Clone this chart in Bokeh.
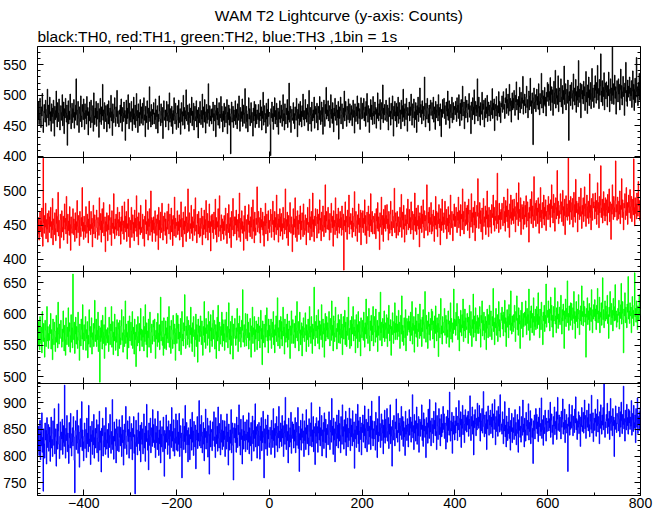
from bokeh.plotting import figure
from bokeh.models import (SingleIntervalTicker, FixedTicker, LinearAxis, Title,
                          Range1d, CustomJSTickFormatter, Grid)
from bokeh.embed import file_html
from bokeh.resources import INLINE

TITLE = "WAM T2 Lightcurve (y-axis: Counts)"
SUBTITLE = "black:TH0, red:TH1, green:TH2, blue:TH3 ,1bin = 1s"
X_START = -500
BIN_WIDTH = 1
X_MIN, X_MAX = -500, 800

th0 = [
    476, 461, 489, 452, 470, 495, 458, 447, 481, 466, 503, 474, 439, 462, 485, 471, 456, 492, 468, 449, 477, 510, 463, 484, 451,
    469, 497, 458, 473, 441, 486, 465, 479, 454, 492, 470, 433, 482, 460, 475, 507, 463, 448, 488, 471, 457, 494, 476, 443, 468,
    483, 459, 472, 501, 450, 466, 489, 437, 478, 463, 495, 471, 456, 484, 418, 467, 491, 453, 474, 460, 502, 480, 445, 469, 487,
    455, 478, 464, 493, 446, 472, 459, 484, 527, 468, 451, 476, 490, 462, 439, 481, 470, 457, 499, 466, 448, 485, 473, 460, 494,
    471, 444, 486, 462, 475, 453, 498, 467, 480, 435, 473, 458, 489, 464, 447, 492, 476, 455, 468, 483, 441, 504, 466, 452, 479,
    463, 490, 449, 474, 461, 487, 472, 431, 478, 456, 495, 469, 452, 481, 466, 518, 459, 476, 445, 488, 470, 457, 483, 462, 440,
    485, 467, 453, 491, 472, 446, 479, 464, 500, 458, 473, 434, 486, 469, 455, 477, 496, 462, 449, 481, 465, 508, 454, 474, 460,
    448, 476, 469, 484, 455, 494, 466, 441, 480, 471, 457, 489, 463, 475, 426, 468, 492, 453, 479, 462, 501, 470, 445, 487, 459,
    473, 456, 490, 465, 442, 478, 461, 497, 452, 470, 484, 447, 466, 503, 458, 475, 439, 486, 463, 472, 450, 493, 468, 454, 481,
    462, 487, 451, 474, 496, 459, 468, 432, 482, 466, 455, 491, 470, 444, 479, 463, 514, 457, 473, 448, 485, 466, 452, 477, 469,
    488, 453, 471, 460, 494, 445, 476, 465, 483, 438, 469, 457, 499, 474, 461, 450, 486, 467, 455, 480, 429, 472, 491, 459, 464,
    476, 448, 465, 490, 458, 471, 485, 443, 467, 504, 456, 478, 462, 449, 482, 470, 437, 475, 459, 496, 466, 453, 487, 471, 444,
    459, 483, 470, 447, 492, 464, 455, 478, 436, 469, 488, 457, 473, 451, 500, 466, 480, 445, 461, 475, 509, 458, 468, 484, 452,
    472, 441, 486, 463, 455, 479, 467, 497, 450, 474, 460, 487, 443, 470, 482, 458, 465, 491, 448, 476, 462, 430, 480, 469, 455,
    490, 466, 452, 475, 461, 502, 447, 481, 468, 456, 493, 473, 438, 464, 485, 454, 477, 460, 519, 471, 449, 483, 466, 458, 477,
    453, 478, 464, 489, 442, 470, 458, 484, 475, 432, 467, 495, 460, 479, 451, 473, 488, 446, 469, 463, 498, 457, 482, 470, 440,
    474, 459, 487, 448, 469, 481, 455, 466, 493, 437, 472, 460, 484, 451, 478, 465, 404, 470, 489, 456, 463, 482, 447, 476, 458,
    468, 491, 452, 477, 463, 445, 486, 470, 459, 499, 466, 441, 480, 457, 473, 462, 494, 449, 468, 484, 454, 471, 511, 460, 446,
    482, 457, 469, 440, 475, 496, 461, 478, 450, 467, 488, 455, 472, 464, 433, 479, 458, 490, 466, 447, 485, 469, 453, 476, 463,
    460, 485, 447, 471, 458, 492, 466, 481, 443, 474, 462, 505, 451, 468, 483, 456, 470, 438, 487, 461, 477, 449, 494, 465, 472,
    471, 452, 401, 478, 463, 489, 457, 470, 444, 482, 465, 496, 453, 475, 460, 487, 448, 469, 479, 436, 473, 461, 491, 455, 467,
    484, 462, 449, 476, 501, 458, 470, 443, 486, 465, 453, 479, 468, 493, 447, 474, 460, 520, 456, 471, 482, 439, 466, 477, 459,
    463, 488, 454, 470, 445, 481, 467, 459, 495, 472, 432, 477, 462, 486, 451, 469, 490, 457, 474, 448, 483, 465, 502, 460, 475,
    450, 474, 493, 461, 479, 456, 468, 485, 442, 472, 508, 464, 453, 480, 467, 441, 489, 470, 458, 476, 463, 497, 446, 482, 469,
    478, 455, 487, 466, 443, 482, 471, 460, 498, 475, 452, 468, 489, 457, 480, 436, 473, 492, 464, 449, 485, 470, 513, 461, 476,
    466, 491, 458, 474, 483, 447, 469, 501, 462, 477, 454, 488, 471, 440, 479, 466, 495, 459, 472, 484, 451, 476, 463, 490, 428,
    481, 462, 475, 497, 453, 468, 486, 471, 445, 479, 464, 507, 458, 473, 490, 467, 449, 482, 476, 460, 494, 470, 455, 486, 472,
    459, 483, 468, 450, 477, 492, 464, 475, 438, 486, 471, 457, 481, 466, 499, 453, 474, 487, 462, 478, 444, 469, 496, 473, 461,
    487, 463, 476, 495, 458, 472, 481, 449, 490, 467, 503, 474, 456, 483, 470, 439, 478, 465, 493, 460, 484, 471, 452, 498, 466,
    474, 453, 489, 469, 480, 446, 477, 462, 504, 471, 458, 486, 467, 493, 444, 475, 488, 461, 470, 517, 455, 479, 468, 485, 459,
    463, 492, 471, 457, 484, 468, 443, 479, 496, 465, 474, 451, 487, 470, 461, 499, 476, 433, 482, 466, 490, 458, 473, 487, 448,
    481, 466, 497, 454, 472, 488, 461, 476, 445, 492, 469, 483, 457, 510, 464, 478, 450, 486, 471, 460, 495, 474, 441, 480, 467,
    470, 489, 458, 481, 467, 502, 475, 451, 486, 463, 479, 494, 447, 473, 460, 488, 476, 439, 483, 468, 497, 457, 480, 471, 512,
    464, 485, 476, 453, 491, 470, 482, 459, 477, 530, 466, 448, 487, 474, 461, 495, 479, 455, 469, 484, 442, 478, 492, 467, 473,
    488, 461, 474, 497, 456, 481, 469, 444, 490, 476, 463, 485, 472, 458, 501, 467, 480, 450, 486, 473, 432, 477, 464, 493, 470,
    477, 495, 462, 483, 470, 452, 489, 474, 466, 507, 459, 478, 491, 446, 472, 485, 463, 480, 497, 455, 471, 488, 460, 476, 482,
    468, 490, 479, 457, 496, 472, 484, 462, 501, 475, 450, 487, 470, 493, 459, 481, 515, 466, 478, 489, 445, 474, 498, 463, 480,
    492, 471, 456, 486, 477, 503, 464, 483, 470, 437, 489, 475, 460, 496, 481, 468, 509, 453, 477, 490, 466, 484, 472, 527, 458,
    479, 497, 465, 482, 451, 488, 474, 469, 505, 460, 486, 477, 492, 448, 473, 495, 463, 481, 470, 500, 457, 476, 489, 466, 484,
    473, 458, 491, 480, 468, 511, 462, 487, 476, 494, 442, 478, 485, 466, 498, 474, 459, 483, 471, 506, 465, 490, 479, 455, 487,
    481, 499, 472, 490, 506, 477, 485, 462, 496, 488, 511, 470, 493, 479, 502, 467, 487, 518, 474, 495, 483, 456, 491, 504, 476,
    495, 479, 508, 486, 467, 500, 489, 522, 476, 493, 484, 460, 498, 481, 513, 471, 490, 505, 478, 496, 487, 531, 469, 492, 483,
    502, 486, 471, 497, 515, 480, 493, 463, 488, 507, 476, 499, 528, 482, 491, 470, 504, 487, 419, 496, 512, 478, 489, 501, 473,
    491, 510, 484, 498, 477, 519, 490, 468, 503, 486, 496, 536, 479, 494, 508, 471, 499, 485, 513, 482, 497, 466, 505, 490, 521,
    497, 518, 483, 506, 492, 529, 475, 501, 514, 488, 509, 467, 498, 523, 486, 504, 541, 479, 495, 511, 485, 500, 532, 473, 507,
    512, 489, 504, 527, 481, 497, 516, 470, 508, 493, 548, 485, 502, 519, 476, 495, 510, 487, 525, 499, 426, 506, 491, 517, 483,
    495, 521, 508, 477, 503, 535, 490, 512, 484, 499, 526, 472, 506, 492, 515, 481, 557, 497, 510, 488, 520, 463, 502, 518, 494,
    508, 486, 523, 499, 514, 475, 501, 539, 489, 505, 470, 517, 496, 530, 483, 509, 493, 521, 478, 503, 544, 490, 512, 497, 480,
    517, 496, 532, 508, 487, 521, 503, 549, 492, 511, 478, 526, 500, 515, 568, 489, 507, 524, 483, 513, 498, 537, 476, 509, 520,
    494, 522, 505, 481, 516, 499, 538, 510, 473, 503, 527, 491, 512, 486, 579, 500, 519, 485, 508, 533, 495, 514, 469, 506, 524,
    511, 489, 527, 502, 518, 476, 509, 543, 495, 516, 484, 506, 531, 498, 513, 467, 520, 504, 554, 490, 508, 482, 525, 497, 515,
    503, 530, 491, 512, 499, 524, 480, 507, 540, 493, 518, 475, 510, 528, 488, 506, 562, 497, 514, 483, 521, 500, 536, 492, 511,
]

th1 = [
    452, 437, 461, 428, 449, 470, 441, 456, 433, 475, 446, 419, 548, 453, 438, 464, 447, 482, 430, 458, 444, 467, 425, 451, 471,
    439, 462, 448, 476, 431, 455, 443, 489, 421, 459, 450, 436, 468, 445, 427, 473, 452, 440, 463, 498, 434, 457, 446, 416, 466,
    458, 432, 471, 447, 440, 463, 428, 454, 481, 444, 460, 437, 492, 449, 423, 466, 442, 456, 435, 477, 451, 413, 462, 445, 438,
    447, 474, 436, 459, 452, 426, 468, 443, 455, 431, 486, 448, 439, 464, 457, 420, 470, 446, 433, 461, 449, 505, 441, 454, 429,
    463, 441, 450, 432, 477, 455, 438, 466, 447, 424, 459, 485, 442, 451, 436, 470, 445, 460, 418, 453, 479, 437, 448, 465, 431,
    440, 458, 472, 446, 429, 461, 453, 435, 490, 449, 443, 467, 425, 456, 474, 439, 452, 483, 434, 447, 462, 411, 455, 441, 468,
    451, 427, 464, 443, 457, 480, 436, 449, 461, 420, 471, 445, 453, 438, 496, 448, 430, 459, 444, 466, 435, 453, 476, 442, 458,
    434, 469, 447, 455, 422, 462, 441, 478, 450, 437, 456, 429, 484, 446, 463, 440, 470, 426, 452, 445, 488, 433, 461, 449, 417,
    457, 443, 476, 432, 451, 465, 438, 454, 427, 472, 446, 460, 441, 493, 433, 450, 462, 421, 468, 444, 455, 436, 479, 447, 439,
    446, 466, 430, 458, 444, 419, 463, 451, 487, 437, 455, 442, 470, 428, 459, 448, 474, 435, 453, 500, 440, 461, 426, 457, 443,
    462, 438, 453, 471, 426, 448, 459, 435, 465, 452, 414, 476, 443, 457, 431, 469, 446, 439, 482, 450, 428, 463, 441, 455, 468,
    435, 459, 447, 423, 470, 444, 456, 481, 437, 452, 466, 429, 449, 475, 440, 458, 420, 464, 451, 434, 491, 445, 460, 432, 454,
    449, 471, 436, 455, 442, 465, 428, 458, 447, 484, 433, 460, 451, 418, 469, 443, 456, 437, 477, 448, 426, 462, 453, 439, 503,
    441, 457, 468, 430, 452, 445, 479, 438, 462, 427, 455, 446, 473, 435, 459, 490, 441, 450, 424, 466, 453, 437, 470, 448, 432,
    460, 434, 452, 475, 445, 421, 463, 450, 436, 472, 444, 458, 431, 486, 449, 440, 467, 428, 456, 446, 481, 439, 455, 412, 464,
    448, 466, 439, 457, 430, 469, 452, 444, 488, 436, 461, 425, 455, 447, 474, 433, 458, 493, 441, 450, 427, 465, 446, 459, 437,
    455, 429, 464, 442, 458, 475, 435, 451, 423, 467, 445, 439, 480, 452, 431, 461, 448, 417, 470, 443, 456, 489, 434, 449, 462,
    437, 462, 450, 472, 428, 446, 458, 441, 466, 432, 497, 453, 426, 460, 444, 471, 438, 455, 449, 413, 464, 441, 478, 452, 430,
    458, 443, 427, 465, 451, 480, 439, 456, 433, 462, 447, 476, 430, 452, 487, 441, 458, 424, 469, 446, 435, 460, 451, 506, 440,
    446, 470, 454, 438, 461, 424, 475, 447, 458, 443, 469, 435, 455, 419, 463, 449, 482, 437, 453, 466, 442, 427, 471, 445, 457,
    439, 456, 473, 448, 432, 466, 451, 485, 440, 457, 428, 470, 447, 461, 436, 494, 452, 443, 466, 425, 459, 447, 474, 434, 462,
    467, 441, 452, 429, 476, 446, 460, 437, 455, 503, 443, 458, 431, 469, 448, 420, 464, 451, 440, 483, 455, 438, 462, 447, 411,
    451, 474, 436, 459, 447, 490, 432, 463, 449, 426, 471, 444, 457, 436, 465, 452, 478, 429, 456, 443, 468, 454, 433, 481, 445,
    436, 457, 465, 442, 421, 460, 451, 476, 439, 454, 447, 488, 428, 462, 445, 470, 433, 451, 497, 440, 458, 426, 463, 449, 474,
    462, 445, 431, 473, 452, 466, 438, 457, 487, 443, 460, 427, 469, 450, 441, 478, 455, 433, 464, 447, 509, 439, 456, 470, 444,
    450, 476, 443, 458, 428, 467, 452, 439, 482, 455, 446, 463, 419, 471, 448, 457, 436, 490, 453, 442, 466, 431, 460, 475, 447,
    438, 459, 470, 446, 461, 435, 478, 451, 443, 466, 384, 457, 449, 484, 440, 463, 454, 429, 472, 447, 458, 494, 437, 462, 451,
    467, 444, 456, 432, 475, 453, 440, 463, 499, 448, 434, 470, 457, 445, 426, 465, 451, 481, 439, 460, 447, 472, 421, 455, 468,
    446, 471, 439, 460, 452, 487, 435, 464, 448, 423, 469, 455, 442, 478, 451, 433, 466, 449, 496, 440, 458, 470, 437, 454, 463,
    459, 437, 467, 450, 430, 474, 456, 445, 483, 441, 462, 452, 414, 468, 447, 458, 491, 436, 464, 450, 426, 473, 445, 460, 479,
    441, 464, 452, 480, 445, 459, 428, 470, 451, 438, 466, 485, 443, 455, 434, 472, 457, 446, 463, 504, 439, 456, 468, 431, 453,
    470, 448, 435, 462, 455, 440, 476, 447, 461, 495, 432, 457, 469, 444, 479, 452, 425, 465, 449, 458, 436, 474, 452, 488, 443,
    452, 473, 446, 461, 437, 484, 455, 443, 470, 458, 429, 466, 450, 497, 441, 462, 475, 436, 457, 449, 479, 444, 463, 418, 468,
    445, 460, 478, 439, 466, 452, 487, 447, 431, 471, 456, 464, 442, 458, 509, 448, 435, 469, 453, 476, 440, 461, 451, 483, 437,
    466, 441, 455, 472, 448, 426, 463, 450, 492, 444, 470, 457, 433, 468, 452, 480, 446, 459, 421, 474, 455, 442, 488, 450, 462,
    439, 468, 451, 485, 456, 444, 473, 430, 460, 449, 477, 440, 465, 453, 436, 494, 458, 446, 470, 452, 427, 466, 457, 481, 448,
    463, 448, 476, 455, 439, 469, 457, 491, 446, 471, 452, 434, 480, 459, 466, 443, 503, 455, 470, 437, 462, 484, 449, 458, 475,
    451, 479, 442, 466, 488, 454, 431, 472, 460, 447, 496, 455, 468, 439, 476, 461, 450, 485, 427, 469, 457, 446, 479, 463, 518,
    468, 445, 460, 483, 452, 471, 440, 458, 475, 429, 466, 489, 448, 462, 454, 478, 436, 471, 459, 500, 447, 465, 433, 476, 456,
    447, 472, 455, 438, 480, 461, 467, 494, 450, 476, 441, 463, 457, 486, 445, 470, 526, 452, 464, 439, 482, 458, 469, 444, 473,
    458, 482, 467, 449, 475, 491, 453, 470, 441, 486, 462, 478, 455, 503, 446, 472, 464, 432, 481, 460, 494, 451, 469, 487, 457,
    474, 452, 488, 463, 477, 440, 470, 497, 458, 467, 483, 449, 512, 461, 473, 455, 490, 436, 468, 480, 459, 476, 444, 485, 465,
    451, 479, 462, 493, 447, 470, 484, 456, 468, 425, 476, 460, 488, 471, 452, 499, 463, 478, 446, 465, 521, 457, 473, 482, 448,
    486, 464, 475, 452, 490, 469, 438, 481, 461, 505, 455, 472, 446, 483, 467, 459, 494, 450, 476, 463, 487, 442, 470, 458, 479,
    470, 492, 458, 481, 465, 447, 487, 474, 509, 461, 478, 453, 495, 468, 482, 441, 473, 490, 459, 476, 530, 464, 485, 452, 471,
    460, 479, 496, 466, 484, 455, 472, 501, 449, 477, 464, 488, 436, 470, 493, 462, 481, 457, 475, 548, 463, 486, 451, 469, 492,
    483, 458, 471, 489, 447, 476, 498, 462, 480, 454, 517, 468, 485, 473, 440, 482, 466, 491, 458, 477, 463, 504, 470, 445, 479,
    466, 490, 455, 474, 506, 463, 481, 448, 472, 494, 460, 477, 485, 452, 468, 525, 461, 479, 443, 489, 470, 457, 496, 475, 484,
    478, 459, 497, 470, 486, 451, 474, 512, 465, 483, 446, 492, 468, 479, 537, 461, 475, 488, 453, 471, 499, 464, 482, 456, 490,
    463, 487, 472, 450, 495, 477, 468, 503, 455, 484, 470, 429, 481, 466, 509, 473, 458, 492, 476, 462, 486, 544, 469, 480, 457,
    491, 470, 459, 485, 466, 500, 452, 479, 473, 518, 461, 487, 469, 443, 482, 475, 496, 458, 471, 505, 464, 483, 451, 476, 494,
    468, 484, 502, 460, 477, 492, 455, 471, 488, 465, 547, 476, 449, 490, 467, 481, 459, 497, 473, 463, 514, 478, 486, 457, 472,
]

th2 = [
    572, 549, 588, 561, 543, 596, 567, 553, 579, 538, 604, 570, 556, 585, 562, 531, 590, 574, 548, 566, 612, 557, 580, 545, 569,
    558, 583, 569, 601, 544, 575, 560, 527, 592, 566, 551, 587, 573, 540, 563, 598, 555, 578, 546, 619, 568, 552, 584, 561, 575,
    590, 563, 547, 576, 556, 605, 570, 541, 582, 559, 534, 594, 567, 551, 579, 564, 610, 548, 572, 586, 539, 566, 599, 555, 578,
    546, 664, 574, 559, 587, 537, 568, 595, 552, 580, 563, 545, 603, 571, 558, 526, 584, 566, 549, 592, 575, 560, 615, 543, 570,
    583, 557, 569, 596, 542, 575, 561, 588, 530, 566, 552, 607, 573, 547, 580, 563, 594, 536, 570, 559, 585, 548, 577, 622, 556,
    567, 592, 548, 574, 559, 603, 540, 581, 565, 491, 578, 556, 590, 562, 544, 598, 571, 553, 583, 529, 565, 611, 550, 575, 561,
    554, 578, 566, 540, 595, 569, 551, 584, 573, 612, 547, 563, 588, 535, 571, 557, 600, 564, 542, 579, 555, 591, 568, 533, 586,
    576, 545, 590, 562, 551, 581, 607, 558, 570, 539, 596, 566, 548, 575, 621, 553, 584, 563, 528, 571, 589, 546, 562, 597, 557,
    561, 587, 550, 573, 604, 545, 568, 579, 536, 592, 559, 571, 516, 583, 564, 549, 596, 572, 554, 585, 541, 567, 609, 558, 576,
    548, 574, 563, 596, 541, 580, 556, 615, 568, 551, 586, 531, 573, 562, 592, 547, 578, 603, 559, 538, 571, 584, 552, 565, 590,
    579, 556, 592, 566, 529, 574, 560, 587, 548, 601, 570, 555, 583, 543, 566, 627, 557, 572, 589, 550, 563, 534, 594, 568, 545,
    566, 589, 543, 578, 561, 595, 554, 570, 612, 547, 581, 563, 537, 590, 575, 559, 545, 598, 567, 552, 584, 570, 526, 577, 601,
    553, 577, 598, 560, 584, 541, 571, 562, 593, 535, 576, 604, 557, 568, 549, 586, 573, 631, 560, 545, 581, 566, 596, 551, 574,
    590, 560, 547, 582, 567, 611, 553, 578, 540, 586, 564, 596, 571, 532, 575, 559, 600, 548, 583, 567, 523, 592, 570, 556, 581,
    564, 597, 572, 551, 589, 563, 534, 580, 566, 620, 555, 578, 545, 593, 569, 583, 550, 574, 604, 561, 588, 539, 573, 599, 557,
    578, 548, 585, 606, 560, 576, 590, 544, 567, 583, 529, 572, 595, 557, 614, 563, 541, 587, 574, 552, 580, 566, 603, 548, 591,
    557, 584, 569, 542, 591, 574, 555, 603, 563, 580, 546, 570, 618, 559, 576, 536, 588, 565, 550, 597, 572, 528, 584, 561, 575,
    593, 565, 550, 578, 561, 609, 572, 540, 585, 556, 597, 568, 579, 547, 562, 590, 574, 639, 555, 570, 583, 548, 566, 601, 559,
    549, 576, 600, 562, 587, 544, 570, 558, 593, 573, 531, 581, 564, 611, 553, 578, 567, 596, 540, 575, 560, 589, 571, 543, 584,
    570, 595, 557, 581, 546, 573, 606, 560, 577, 519, 589, 566, 554, 584, 572, 547, 598, 563, 581, 610, 557, 574, 538, 592, 565,
    582, 558, 576, 592, 545, 569, 587, 563, 604, 551, 575, 538, 583, 566, 597, 556, 571, 626, 549, 578, 563, 590, 545, 572, 596,
    560, 588, 549, 573, 611, 565, 579, 536, 592, 570, 555, 584, 562, 600, 547, 576, 559, 589, 574, 529, 581, 566, 605, 553, 578,
    591, 567, 553, 585, 571, 546, 597, 562, 578, 620, 557, 573, 588, 541, 569, 603, 575, 551, 566, 586, 533, 580, 562, 594, 572,
    556, 578, 602, 566, 540, 583, 559, 574, 592, 548, 569, 612, 563, 580, 553, 596, 571, 537, 584, 560, 577, 643, 565, 549, 588,
    573, 598, 562, 581, 553, 607, 576, 544, 589, 566, 583, 559, 615, 572, 547, 592, 568, 585, 531, 578, 601, 557, 574, 596, 563,
    586, 560, 578, 604, 569, 549, 593, 575, 558, 621, 566, 582, 541, 597, 570, 556, 589, 611, 563, 577, 544, 585, 572, 599, 554,
    567, 591, 553, 576, 600, 562, 584, 535, 574, 596, 560, 579, 606, 551, 587, 573, 548, 595, 566, 582, 627, 559, 577, 545, 590,
    575, 549, 596, 568, 584, 612, 557, 579, 565, 591, 538, 573, 599, 561, 583, 546, 604, 571, 556, 588, 567, 533, 594, 578, 562,
    590, 572, 558, 603, 579, 547, 586, 568, 624, 561, 583, 596, 553, 576, 609, 565, 541, 589, 574, 598, 557, 581, 567, 612, 549,
    571, 596, 582, 555, 608, 574, 563, 590, 540, 581, 566, 603, 577, 558, 635, 570, 587, 549, 578, 593, 562, 584, 605, 556, 575,
    586, 561, 599, 577, 548, 594, 569, 614, 583, 557, 576, 591, 534, 580, 567, 602, 574, 553, 588, 570, 618, 559, 585, 571, 597,
    559, 584, 572, 606, 564, 587, 545, 576, 598, 568, 629, 556, 582, 573, 550, 594, 578, 562, 607, 541, 580, 593, 566, 588, 575,
    597, 571, 588, 557, 603, 579, 566, 620, 552, 585, 574, 596, 539, 582, 569, 610, 563, 589, 576, 548, 600, 572, 585, 561, 616,
    565, 591, 578, 548, 595, 572, 607, 583, 561, 587, 636, 570, 555, 598, 576, 589, 545, 580, 603, 567, 584, 558, 593, 574, 608,
    583, 604, 560, 589, 576, 546, 597, 569, 613, 582, 557, 594, 571, 585, 532, 600, 578, 562, 591, 625, 568, 581, 552, 596, 573,
    570, 587, 609, 566, 580, 598, 553, 591, 575, 563, 605, 584, 547, 589, 572, 618, 560, 593, 577, 555, 586, 569, 640, 575, 592,
    590, 566, 603, 581, 617, 574, 559, 596, 585, 541, 592, 571, 606, 583, 565, 599, 578, 624, 556, 589, 573, 608, 562, 594, 580,
    575, 601, 587, 553, 595, 570, 614, 582, 566, 604, 579, 548, 591, 577, 632, 563, 597, 584, 570, 610, 557, 588, 576, 598, 569,
    594, 569, 580, 612, 576, 547, 598, 586, 621, 565, 590, 574, 603, 559, 584, 596, 570, 543, 589, 608, 577, 562, 599, 583, 614,
    564, 590, 605, 577, 559, 596, 581, 641, 572, 587, 551, 594, 578, 609, 566, 585, 599, 556, 580, 620, 573, 591, 563, 586, 602,
    590, 611, 576, 598, 565, 603, 585, 622, 571, 594, 548, 588, 607, 579, 596, 562, 615, 583, 600, 574, 637, 586, 568, 597, 581,
    572, 599, 587, 614, 578, 556, 604, 590, 629, 575, 593, 566, 610, 584, 598, 545, 589, 606, 577, 619, 592, 563, 601, 580, 594,
    603, 582, 621, 596, 567, 609, 585, 599, 574, 640, 590, 558, 605, 578, 613, 593, 570, 601, 587, 626, 566, 596, 580, 608, 575,
    588, 612, 577, 600, 634, 583, 596, 562, 608, 591, 575, 619, 597, 584, 551, 603, 589, 614, 572, 598, 585, 648, 579, 594, 606,
    595, 621, 586, 608, 573, 601, 627, 590, 614, 579, 598, 563, 612, 589, 603, 642, 584, 597, 570, 610, 592, 620, 577, 600, 587,
    611, 583, 602, 630, 594, 568, 607, 589, 616, 598, 545, 605, 592, 624, 580, 609, 596, 653, 586, 601, 574, 613, 595, 582, 618,
    590, 617, 599, 575, 610, 593, 636, 585, 604, 561, 597, 620, 588, 608, 578, 600, 631, 592, 567, 606, 589, 613, 583, 645, 596,
    604, 581, 621, 596, 612, 587, 600, 531, 609, 595, 626, 583, 605, 591, 617, 574, 598, 610, 588, 639, 597, 570, 607, 592, 615,
    596, 623, 589, 608, 575, 614, 600, 641, 586, 605, 592, 627, 570, 603, 595, 618, 582, 610, 658, 591, 607, 578, 600, 621, 589,
    613, 592, 604, 630, 585, 599, 561, 611, 596, 636, 602, 583, 617, 594, 606, 573, 625, 598, 589, 612, 647, 590, 605, 579, 600,
    587, 609, 598, 622, 576, 603, 593, 615, 649, 584, 601, 620, 591, 538, 608, 597, 634, 586, 611, 595, 578, 616, 603, 660, 592,
    605, 585, 618, 597, 611, 570, 602, 628, 593, 606, 581, 614, 666, 596, 609, 587, 621, 599, 575, 613, 604, 590, 631, 598, 608,
]

th3 = [
    839, 812, 856, 801, 828, 867, 793, 844, 819, 881, 807, 835, 734, 851, 823, 796, 862, 830, 848, 785, 872, 816, 841, 859, 809,
    826, 854, 790, 838, 873, 815, 831, 799, 866, 842, 820, 889, 804, 836, 851, 781, 828, 860, 813, 847, 898, 822, 795, 837, 864,
    811, 845, 832, 869, 803, 825, 857, 818, 933, 840, 796, 852, 829, 876, 808, 843, 821, 786, 863, 834, 815, 880, 842, 800, 826,
    853, 819, 874, 836, 792, 731, 848, 866, 812, 839, 886, 824, 805, 857, 831, 779, 845, 870, 817, 833, 902, 810, 849, 827, 791,
    837, 862, 814, 829, 850, 797, 871, 823, 843, 808, 895, 832, 818, 856, 784, 840, 827, 865, 803, 848, 821, 878, 796, 835, 852,
    815, 843, 868, 806, 834, 859, 790, 826, 884, 811, 847, 825, 770, 852, 838, 871, 800, 829, 857, 817, 844, 803, 891, 830, 813,
    850, 824, 797, 861, 839, 816, 878, 833, 805, 846, 822, 906, 812, 837, 794, 864, 828, 851, 819, 787, 869, 842, 810, 855, 831,
    808, 868, 835, 819, 854, 841, 799, 876, 825, 849, 783, 830, 860, 814, 845, 893, 821, 803, 838, 866, 827, 850, 796, 874, 836,
    845, 813, 861, 829, 793, 852, 836, 874, 805, 840, 729, 826, 867, 818, 849, 802, 835, 881, 823, 846, 810, 858, 789, 831, 863,
    822, 851, 804, 838, 879, 815, 843, 790, 856, 827, 897, 833, 811, 848, 774, 862, 820, 839, 871, 806, 836, 853, 818, 887, 825,
    859, 830, 816, 870, 797, 844, 825, 856, 812, 884, 834, 801, 849, 823, 866, 787, 841, 817, 855, 829, 808, 873, 838, 762, 848,
    814, 842, 877, 826, 855, 803, 832, 866, 820, 848, 795, 860, 837, 816, 891, 828, 846, 809, 868, 833, 800, 852, 824, 879, 811,
    836, 867, 809, 845, 822, 880, 799, 834, 857, 815, 843, 759, 828, 870, 841, 812, 856, 827, 895, 806, 838, 863, 821, 848, 789,
    853, 821, 840, 793, 869, 832, 854, 811, 882, 826, 847, 801, 865, 839, 817, 858, 776, 830, 849, 874, 814, 843, 828, 904, 819,
    828, 859, 815, 876, 837, 806, 845, 863, 822, 791, 852, 835, 888, 813, 846, 825, 871, 798, 838, 857, 766, 841, 866, 817, 850,
    845, 810, 864, 829, 851, 883, 818, 836, 797, 872, 840, 823, 856, 809, 892, 833, 815, 861, 843, 802, 878, 826, 849, 812, 867,
    818, 847, 831, 866, 799, 838, 855, 813, 879, 827, 845, 783, 860, 836, 811, 849, 824, 887, 806, 842, 862, 820, 755, 853, 834,
    861, 825, 852, 807, 873, 834, 816, 858, 840, 896, 819, 844, 802, 869, 831, 850, 785, 838, 876, 813, 847, 829, 864, 808, 841,
    830, 868, 812, 845, 826, 881, 804, 853, 837, 819, 863, 791, 842, 875, 823, 848, 809, 867, 833, 898, 817, 855, 840, 796, 859,
    847, 819, 863, 838, 794, 856, 829, 872, 810, 846, 825, 884, 835, 759, 851, 824, 869, 813, 841, 858, 801, 877, 832, 849, 816,
    825, 854, 839, 803, 867, 832, 848, 816, 889, 829, 852, 797, 861, 838, 820, 874, 843, 808, 856, 834, 893, 815, 847, 827, 862,
    851, 818, 876, 834, 857, 799, 843, 866, 822, 910, 836, 812, 859, 829, 846, 787, 871, 840, 817, 853, 826, 882, 805, 839, 864,
    833, 860, 815, 849, 828, 872, 806, 845, 863, 820, 838, 891, 814, 856, 771, 842, 830, 867, 811, 851, 835, 879, 824, 847, 799,
    866, 829, 853, 812, 887, 841, 823, 858, 834, 802, 870, 846, 819, 862, 837, 900, 817, 849, 827, 874, 808, 855, 843, 784, 861,
    837, 872, 824, 855, 807, 866, 843, 830, 892, 819, 853, 838, 876, 800, 849, 827, 863, 814, 881, 846, 825, 869, 797, 852, 840,
    859, 821, 848, 883, 834, 812, 867, 845, 826, 908, 839, 856, 803, 871, 830, 851, 789, 864, 842, 819, 877, 833, 858, 815, 886,
    828, 861, 839, 806, 874, 850, 822, 896, 837, 855, 813, 868, 846, 826, 884, 801, 859, 835, 871, 817, 852, 829, 890, 843, 810,
    870, 836, 858, 819, 885, 842, 827, 864, 777, 849, 832, 879, 816, 856, 840, 897, 823, 866, 808, 847, 873, 831, 854, 802, 862,
    844, 877, 826, 859, 838, 894, 815, 852, 869, 831, 808, 863, 847, 888, 822, 856, 836, 875, 812, 849, 903, 833, 866, 819, 851,
    832, 865, 848, 811, 882, 840, 857, 797, 870, 845, 827, 912, 838, 861, 816, 853, 879, 829, 843, 868, 804, 858, 835, 886, 824,
    869, 835, 853, 889, 828, 846, 872, 814, 860, 841, 896, 823, 855, 837, 781, 867, 849, 830, 876, 843, 819, 864, 851, 907, 834,
    848, 826, 880, 844, 862, 809, 871, 839, 856, 893, 831, 847, 874, 818, 865, 836, 853, 801, 884, 841, 858, 829, 870, 846, 817,
    860, 887, 839, 852, 873, 826, 864, 846, 915, 834, 857, 812, 878, 843, 866, 828, 851, 892, 822, 861, 838, 874, 807, 855, 869,
    837, 864, 850, 896, 829, 858, 818, 881, 847, 869, 835, 856, 797, 872, 841, 862, 824, 888, 853, 833, 906, 845, 866, 819, 859,
    871, 842, 859, 825, 884, 851, 867, 838, 900, 846, 812, 876, 856, 831, 863, 889, 840, 870, 819, 854, 878, 836, 861, 844, 893,
    850, 879, 833, 862, 845, 813, 874, 857, 826, 886, 848, 871, 839, 920, 852, 828, 866, 847, 882, 805, 863, 841, 875, 858, 830,
    866, 843, 891, 857, 875, 829, 862, 849, 904, 871, 836, 858, 883, 816, 869, 852, 895, 840, 864, 877, 825, 860, 887, 848, 872,
    845, 876, 858, 884, 837, 869, 851, 913, 863, 829, 874, 856, 892, 841, 866, 802, 878, 853, 887, 860, 838, 871, 849, 899, 857,
    873, 852, 895, 864, 828, 880, 847, 866, 889, 843, 870, 921, 855, 836, 877, 861, 842, 883, 812, 868, 851, 894, 865, 839, 876,
    858, 886, 842, 873, 855, 898, 834, 867, 879, 850, 906, 862, 821, 874, 846, 885, 869, 837, 893, 856, 878, 845, 915, 863, 848,
    860, 841, 883, 854, 823, 869, 847, 902, 836, 858, 817, 875, 851, 829, 864, 842, 890, 833, 856, 811, 867, 846, 880, 825, 853,
    844, 872, 831, 859, 887, 838, 863, 821, 850, 878, 842, 807, 868, 848, 893, 835, 856, 826, 874, 852, 839, 905, 845, 860, 817,
    871, 849, 828, 882, 856, 839, 867, 851, 898, 830, 863, 846, 885, 823, 857, 870, 835, 852, 786, 866, 848, 877, 832, 859, 889,
    851, 878, 842, 864, 827, 873, 855, 890, 838, 861, 846, 909, 833, 868, 849, 820, 876, 854, 842, 886, 859, 828, 871, 846, 865,
    863, 886, 847, 870, 853, 901, 835, 867, 879, 844, 858, 822, 874, 856, 892, 840, 865, 851, 883, 831, 869, 910, 848, 861, 877,
    846, 873, 859, 832, 884, 854, 869, 907, 841, 863, 850, 888, 825, 867, 852, 878, 843, 860, 771, 872, 856, 897, 839, 864, 850,
    878, 853, 895, 867, 838, 875, 857, 844, 888, 862, 911, 849, 870, 831, 866, 854, 883, 842, 876, 860, 818, 873, 855, 891, 846,
    857, 882, 843, 869, 905, 851, 876, 833, 864, 886, 854, 872, 847, 898, 859, 836, 879, 865, 850, 914, 843, 868, 881, 827, 861,
    871, 848, 888, 863, 837, 879, 857, 906, 845, 874, 860, 823, 883, 852, 896, 866, 841, 877, 858, 891, 849, 935, 870, 835, 864,
    853, 878, 866, 899, 842, 870, 855, 884, 831, 861, 908, 848, 875, 864, 838, 889, 857, 873, 799, 867, 850, 894, 862, 844, 880,
    875, 860, 847, 892, 869, 836, 883, 854, 901, 866, 842, 878, 859, 931, 851, 870, 828, 886, 864, 849, 897, 857, 872, 841, 888,
    862, 885, 850, 873, 856, 904, 839, 868, 880, 846, 895, 863, 852, 877, 825, 889, 866, 854, 909, 842, 874, 860, 883, 848, 891,
]

SERIES = [th0, th1, th2, th3]
COLORS = ["#000000", "#ff0000", "#00ff00", "#0000ff"]
Y_LIMITS = [(398, 580), (382, 549), (489, 668), (726, 936)]
Y_TICK_LABELS = [[400, 450, 500, 550], [400, 450, 500], [500, 550, 600, 650], [750, 800, 850, 900]]
BAND_H = [111, 114, 112, 112]          # pixel height of each stacked panel
FRAME_H = sum(BAND_H)
FRAME_W = 603

FONT = "Liberation Sans"
FS = "14px"
TFS = "15.5px"

p = figure(frame_width=FRAME_W, frame_height=FRAME_H,
           x_range=Range1d(X_MIN, X_MAX), y_range=Range1d(0, FRAME_H),
           x_axis_location="below", y_axis_location=None,
           output_backend="svg", toolbar_location=None,
           min_border_left=37, min_border_right=24,
           min_border_top=46, min_border_bottom=19)
for g in p.select(type=Grid):
    g.visible = False
p.outline_line_color = "black"
p.outline_line_width = 1
p.background_fill_color = "white"
p.border_fill_color = "white"


def x_ticker():
    return SingleIntervalTicker(interval=200, num_minor_ticks=2)


def y_ticker():
    return SingleIntervalTicker(interval=50, num_minor_ticks=5)


def ticks_inside(ax):
    ax.axis_line_color = "black"
    ax.axis_line_width = 1
    ax.major_tick_line_color = "black"
    ax.minor_tick_line_color = "black"
    ax.major_tick_in = 6
    ax.major_tick_out = 0
    ax.minor_tick_in = 3
    ax.minor_tick_out = 0


def unlabelled(ax):
    ax.formatter = CustomJSTickFormatter(code="return ''")
    ax.major_label_standoff = 0


# bottom x axis with labels (below the lowest panel)
bx = p.xaxis[0]
bx.ticker = x_ticker()
ticks_inside(bx)
bx.major_label_text_font = FONT
bx.major_label_text_font_size = FS
bx.major_label_text_color = "black"
bx.major_label_standoff = 2

# one y range per stacked panel, so each series sits in its own band
ranges = {}
label_pos, label_txt = [], []
top_px = 0
for k, (lo, hi) in enumerate(Y_LIMITS):
    h = BAND_H[k]
    u = (hi - lo) / h
    below_px = FRAME_H - top_px - h
    ranges[f"p{k}"] = Range1d(lo - below_px * u, hi + top_px * u)
    for v in Y_TICK_LABELS[k]:
        label_pos.append(below_px + (v - lo) / u)
        label_txt.append(str(v))
    top_px += h
p.extra_y_ranges = ranges

# value labels of the four stacked y axes (one shared label axis)
lab_ax = LinearAxis(ticker=FixedTicker(ticks=label_pos, minor_ticks=[]),
                    formatter=CustomJSTickFormatter(
                        args=dict(pos=label_pos, txt=label_txt),
                        code="""
let best = 0;
for (let i = 1; i < pos.length; i++) {
  if (Math.abs(pos[i] - tick) < Math.abs(pos[best] - tick)) best = i;
}
return txt[best];
"""))
lab_ax.axis_line_color = None
lab_ax.major_tick_line_color = None
lab_ax.minor_tick_line_color = None
lab_ax.major_tick_in = 0
lab_ax.major_tick_out = 0
lab_ax.major_label_text_font = FONT
lab_ax.major_label_text_font_size = FS
lab_ax.major_label_text_color = "black"
lab_ax.major_label_standoff = 11
p.add_layout(lab_ax, "left")

for k, (vals, col, (lo, hi)) in enumerate(zip(SERIES, COLORS, Y_LIMITS)):
    name = f"p{k}"
    ly = LinearAxis(y_range_name=name, fixed_location=X_MIN, bounds=(lo, hi),
                    ticker=y_ticker())
    ticks_inside(ly)
    unlabelled(ly)
    p.add_layout(ly, "left")

    ry = LinearAxis(y_range_name=name, fixed_location=X_MAX, bounds=(lo, hi),
                    ticker=y_ticker())
    ticks_inside(ry)
    unlabelled(ry)
    p.add_layout(ry, "right")

    tx = LinearAxis(y_range_name=name, fixed_location=hi, ticker=x_ticker())
    ticks_inside(tx)
    unlabelled(tx)
    p.add_layout(tx, "above")

    if k < 3:
        lx = LinearAxis(y_range_name=name, fixed_location=lo, ticker=x_ticker())
        ticks_inside(lx)
        unlabelled(lx)
        p.add_layout(lx, "below")

    xs = [X_START + BIN_WIDTH * i for i in range(len(vals))]
    p.step(xs, vals, mode="after", line_color=col, line_width=1,
           y_range_name=name)

p.add_layout(Title(text=SUBTITLE, align="left", text_font=FONT,
                   text_font_size=TFS, text_font_style="normal",
                   text_color="black", standoff=3), "above")
p.add_layout(Title(text=TITLE, align="center", text_font=FONT,
                   text_font_size=TFS, text_font_style="normal",
                   text_color="black", standoff=2, offset=-6), "above")

open("out.html", "w").write(file_html(p, INLINE))
